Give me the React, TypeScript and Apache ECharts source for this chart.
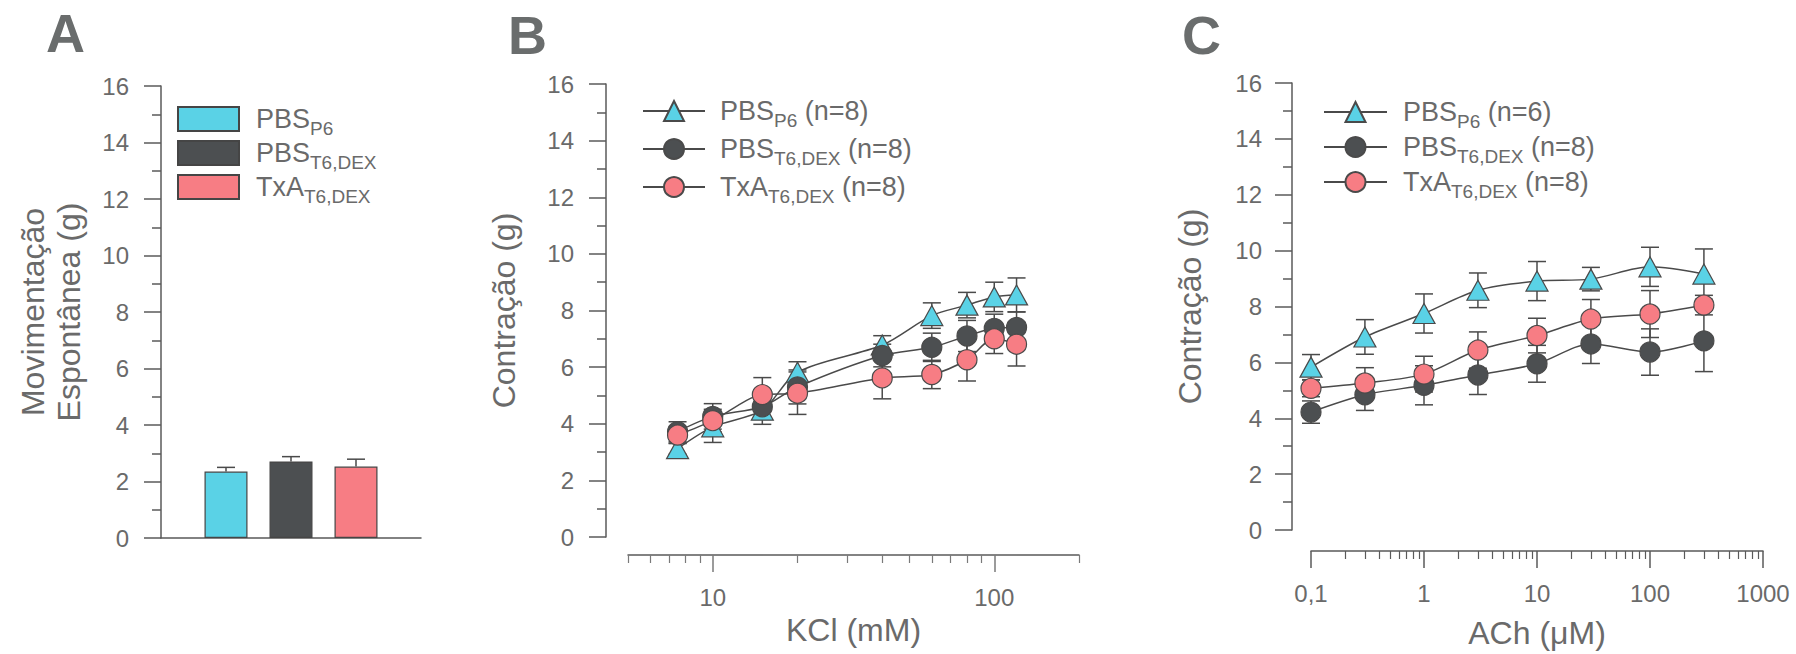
import React, { useEffect, useRef } from 'react';
import * as echarts from 'echarts';

// ---------- data ----------
const barKeys = ['A-P6', 'A-T6', 'A-TxA'];
const barMeans = [2.35, 2.71, 2.53];
const barSems = [0.15, 0.17, 0.26];

const kclConc = [7.5, 10, 15, 20, 40, 60, 80, 100, 120];
const kclPbsP6 = [3.12, 3.89, 4.48, 5.82, 6.78, 7.82, 8.19, 8.48, 8.55];
const kclPbsP6Sem = [0.2, 0.55, 0.5, 0.37, 0.33, 0.45, 0.45, 0.52, 0.6];
const kclPbsT6 = [3.72, 4.26, 4.6, 5.3, 6.41, 6.7, 7.1, 7.37, 7.4];
const kclPbsT6Sem = [0.35, 0.45, 0.35, 0.6, 0.4, 0.5, 0.55, 0.5, 0.55];
const kclTxA = [3.6, 4.11, 5.03, 5.08, 5.62, 5.74, 6.26, 7.0, 6.81];
const kclTxASem = [0.3, 0.4, 0.6, 0.75, 0.74, 0.5, 0.75, 0.52, 0.77];

const achConc = [0.1, 0.3, 1, 3, 10, 30, 100, 300];
const achPbsP6 = [5.83, 6.91, 7.75, 8.58, 8.91, 8.98, 9.42, 9.16];
const achPbsP6Sem = [0.45, 0.62, 0.7, 0.62, 0.7, 0.42, 0.7, 0.9];
const achPbsT6 = [4.22, 4.84, 5.18, 5.55, 5.95, 6.66, 6.37, 6.77];
const achPbsT6Sem = [0.4, 0.56, 0.7, 0.7, 0.66, 0.7, 0.83, 1.1];
const achTxA = [5.07, 5.26, 5.58, 6.44, 6.96, 7.55, 7.73, 8.05];
const achTxASem = [0.3, 0.55, 0.64, 0.65, 0.62, 0.7, 0.84, 0.35];

const kclMajorTicks = [10, 100];
const kclMinorTicks = [5, 6, 7, 8, 9, 20, 30, 40, 50, 60, 70, 80, 90, 200];
const achMajorTicks = [0.1, 1, 10, 100, 1000];
const achMinorTicks = [
  0.2, 0.3, 0.4, 0.5, 0.6, 0.7, 0.8, 0.9,
  2, 3, 4, 5, 6, 7, 8, 9,
  20, 30, 40, 50, 60, 70, 80, 90,
  200, 300, 400, 500, 600, 700, 800, 900,
];

const legendTexts: Record<string, string> = {
  'A-P6': '{m|PBS}{s|P6}',
  'A-T6': '{m|PBS}{s|T6,DEX}',
  'A-TxA': '{m|TxA}{s|T6,DEX}',
  'B-P6': '{m|PBS}{s|P6}{m| (n=8)}',
  'B-T6': '{m|PBS}{s|T6,DEX}{m| (n=8)}',
  'B-TxA': '{m|TxA}{s|T6,DEX}{m| (n=8)}',
  'C-P6': '{m|PBS}{s|P6}{m| (n=6)}',
  'C-T6': '{m|PBS}{s|T6,DEX}{m| (n=8)}',
  'C-TxA': '{m|TxA}{s|T6,DEX}{m| (n=8)}',
};

// ---------- styles ----------
const FONT = '"Liberation Sans", Arial, Helvetica, sans-serif';
const TEXT = '#6a6a6a';
const AXIS = '#5a5a5a';
const LINE = '#4a4a4a';
const CYAN = '#5ad2e6';
const DARK = '#4c4f51';
const PINK = '#f77d84';
const groupColors = [CYAN, DARK, PINK];

const rich = {
  m: { fontSize: 27, lineHeight: 24, color: TEXT, fontFamily: FONT },
  s: { fontSize: 19, lineHeight: 12, padding: [19, 0, 0, 0], color: TEXT, fontFamily: FONT },
};

function yAxisCfg(gridIndex: number, offset: number, margin: number, name: string, nameGap: number, extra: any = {}) {
  return {
    type: 'value', gridIndex, min: 0, max: 16, interval: 2, offset,
    axisLine: { show: true, onZero: false, lineStyle: { color: AXIS, width: 1.5 } },
    axisTick: { show: true, length: 17, lineStyle: { color: AXIS, width: 1.5 } },
    minorTick: { show: true, splitNumber: 2, length: 9, lineStyle: { color: AXIS, width: 1.5 } },
    splitLine: { show: false },
    minorSplitLine: { show: false },
    axisLabel: { fontSize: 24, color: TEXT, margin, fontFamily: FONT },
    name, nameLocation: 'middle', nameGap,
    nameTextStyle: { fontSize: 32, color: TEXT, fontFamily: FONT, ...extra },
  };
}

function logAxes(gridIndex: number, min: number, max: number, offset: number, major: number[], minor: number[], name: string, nameGap: number, tickColor: string, fmt: (v: number) => string) {
  return [
    {
      type: 'log', logBase: 10, gridIndex, min, max, offset, position: 'bottom',
      axisLine: { show: true, onZero: false, lineStyle: { color: AXIS, width: 1.5 } },
      axisTick: { show: true, length: 17, customValues: major, lineStyle: { color: tickColor, width: 1.5 } },
      axisLabel: { show: true, customValues: major, fontSize: 24, color: TEXT, margin: 30, fontFamily: FONT, formatter: fmt },
      splitLine: { show: false },
      name, nameLocation: 'middle', nameGap,
      nameTextStyle: { fontSize: 32, color: TEXT, fontFamily: FONT },
    },
    {
      type: 'log', logBase: 10, gridIndex, min, max, offset, position: 'bottom',
      axisLine: { show: false, onZero: false },
      axisTick: { show: true, length: 8, customValues: minor, lineStyle: { color: tickColor, width: 1.2 } },
      axisLabel: { show: false },
      splitLine: { show: false },
    },
  ];
}

function errorSeries(xAxisIndex: number, yAxisIndex: number, xs: number[], means: number[], sems: number[], upOnly = false) {
  return {
    type: 'custom', xAxisIndex, yAxisIndex, silent: true, z: 2,
    encode: { x: 0, y: 1 },
    data: xs.map((x, i) => [x, means[i], sems[i]]),
    renderItem: (params: any, api: any) => {
      const x = api.value(0);
      const m = api.value(1);
      const e = api.value(2);
      const top = api.coord([x, m + e]);
      const bot = api.coord([x, upOnly ? m : m - e]);
      const hw = 9;
      const style = { stroke: LINE, lineWidth: 1.5 };
      const children: any[] = [
        { type: 'line', shape: { x1: top[0], y1: top[1], x2: bot[0], y2: bot[1] }, style },
        { type: 'line', shape: { x1: top[0] - hw, y1: top[1], x2: top[0] + hw, y2: top[1] }, style },
      ];
      if (!upOnly) {
        children.push({ type: 'line', shape: { x1: bot[0] - hw, y1: bot[1], x2: bot[0] + hw, y2: bot[1] }, style });
      }
      return { type: 'group', children };
    },
  };
}

function lineSeries(name: string, xAxisIndex: number, yAxisIndex: number, xs: number[], ys: number[], symbol: string, color: string, z: number) {
  return {
    type: 'line', name, xAxisIndex, yAxisIndex,
    data: xs.map((x, i) => [x, ys[i]]),
    smooth: 0.3,
    symbol,
    symbolSize: symbol === 'triangle' ? [22, 20] : 20,
    itemStyle: { color, borderColor: LINE, borderWidth: 1.2 },
    lineStyle: { color: LINE, width: 1.5 },
    z,
  };
}

function legendCfg(keys: string[], left: number, top: number, itemWidth: number, itemHeight: number, itemGap: number, textPad: number, icon?: string) {
  const cfg: any = {
    data: keys, orient: 'vertical', left, top, padding: 0,
    itemWidth, itemHeight, itemGap, selectedMode: false,
    formatter: (n: string) => legendTexts[n],
    textStyle: { rich, padding: [0, 0, 0, textPad] },
  };
  if (icon) cfg.icon = icon;
  return cfg;
}

export default function App() {
  const ref = useRef<HTMLDivElement>(null);
  useEffect(() => {
    document.body.style.margin = '0';
    const chart = echarts.init(ref.current!, null, { renderer: 'svg' });

    const bAxes = logAxes(1, 5, 200, 18, kclMajorTicks, kclMinorTicks, 'KCl (mM)', 56, '#7a7a7a', (v) => String(Math.round(v)));
    const cAxes = logAxes(2, 0.1, 1000, 21, achMajorTicks, achMinorTicks, 'ACh (\u03bcM)', 66, AXIS, (v) => (v < 0.5 ? '0,1' : String(Math.round(v))));

    const option: any = {
      animation: false,
      textStyle: { fontFamily: FONT },
      grid: [
        { left: 161, top: 86, width: 260, height: 452 },
        { left: 628, top: 84, width: 451, height: 453 },
        { left: 1311, top: 83, width: 452, height: 453 },
      ],
      xAxis: [
        {
          type: 'value', gridIndex: 0, min: 0, max: 4,
          axisLine: { show: true, onZero: false, lineStyle: { color: AXIS, width: 1.5 } },
          axisTick: { show: false }, axisLabel: { show: false }, splitLine: { show: false },
        },
        ...bAxes,
        ...cAxes,
      ],
      yAxis: [
        yAxisCfg(0, 0, 32, 'Movimentação\nEspontânea (g)', 74, { lineHeight: 36 }),
        yAxisCfg(1, 22, 32, 'Contração (g)', 86),
        yAxisCfg(2, 19, 30, 'Contração (g)', 86),
      ],
      legend: [
        legendCfg(barKeys, 177, 100, 61, 24, -4, 12, 'rect'),
        legendCfg(['B-P6', 'B-T6', 'B-TxA'], 642, 92, 62, 25, 0, 10),
        legendCfg(['C-P6', 'C-T6', 'C-TxA'], 1323, 93, 63, 25, -3, 11),
      ],
      graphic: [
        { type: 'text', left: 46, top: 6, style: { text: 'A', fontSize: 54, fontWeight: 'bold', fill: '#6a6d6d', fontFamily: FONT } },
        { type: 'text', left: 508, top: 8, style: { text: 'B', fontSize: 54, fontWeight: 'bold', fill: '#6a6d6d', fontFamily: FONT } },
        { type: 'text', left: 1182, top: 8, style: { text: 'C', fontSize: 54, fontWeight: 'bold', fill: '#6a6d6d', fontFamily: FONT } },
      ],
      series: [
        ...barKeys.map((k, i) => ({
          type: 'bar', name: k, xAxisIndex: 0, yAxisIndex: 0,
          data: [[i + 1, barMeans[i]]],
          barWidth: 43, barGap: '-100%',
          itemStyle: { color: groupColors[i], borderColor: '#454545', borderWidth: 1.2 },
          z: 3,
        })),
        errorSeries(0, 0, [1, 2, 3], barMeans, barSems, true),

        errorSeries(1, 1, kclConc, kclPbsP6, kclPbsP6Sem),
        errorSeries(1, 1, kclConc, kclPbsT6, kclPbsT6Sem),
        errorSeries(1, 1, kclConc, kclTxA, kclTxASem),
        lineSeries('B-P6', 1, 1, kclConc, kclPbsP6, 'triangle', CYAN, 3),
        lineSeries('B-T6', 1, 1, kclConc, kclPbsT6, 'circle', DARK, 4),
        lineSeries('B-TxA', 1, 1, kclConc, kclTxA, 'circle', PINK, 5),

        errorSeries(3, 2, achConc, achPbsP6, achPbsP6Sem),
        errorSeries(3, 2, achConc, achPbsT6, achPbsT6Sem),
        errorSeries(3, 2, achConc, achTxA, achTxASem),
        lineSeries('C-P6', 3, 2, achConc, achPbsP6, 'triangle', CYAN, 3),
        lineSeries('C-T6', 3, 2, achConc, achPbsT6, 'circle', DARK, 4),
        lineSeries('C-TxA', 3, 2, achConc, achTxA, 'circle', PINK, 5),
      ],
    };
    chart.setOption(option);
    return () => chart.dispose();
  }, []);
  return <div ref={ref} style={{ width: 1796, height: 654 }} />;
}
